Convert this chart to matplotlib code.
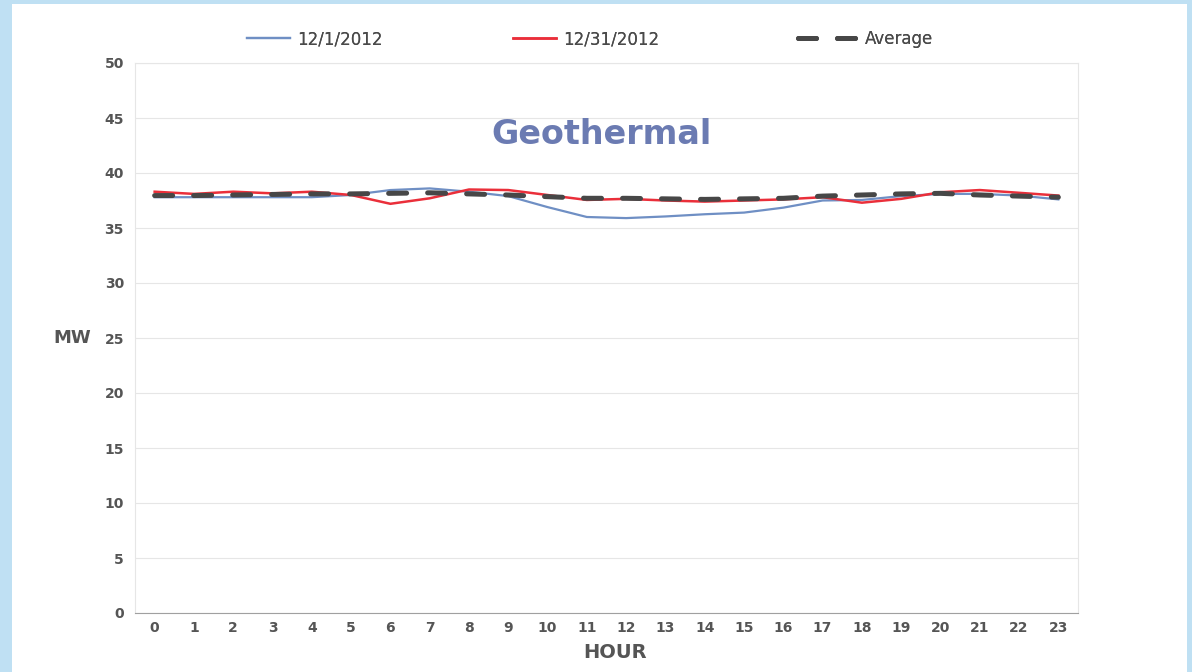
import matplotlib.pyplot as plt
from matplotlib.patches import Rectangle

hours = list(range(24))
dec_01 = [37.8, 37.8, 37.8, 37.8, 37.8, 38.0, 38.45, 38.6, 38.3, 37.9, 36.9, 36.0,
          35.9, 36.05, 36.25, 36.4, 36.85, 37.5, 37.55, 37.9, 38.1, 38.1, 37.95, 37.6]
dec_31 = [38.3, 38.1, 38.3, 38.15, 38.3, 38.0, 37.2, 37.7, 38.5, 38.45, 38.0, 37.55,
          37.65, 37.5, 37.4, 37.5, 37.6, 37.8, 37.3, 37.65, 38.25, 38.45, 38.2, 37.95]
average = [37.95, 37.95, 38.0, 38.05, 38.1, 38.1, 38.15, 38.2, 38.1, 38.0, 37.85, 37.7,
           37.7, 37.65, 37.6, 37.65, 37.7, 37.9, 38.0, 38.1, 38.15, 38.0, 37.9, 37.8]

y_ticks = list(range(0, 51, 5))

fig = plt.figure(figsize=(11.92, 6.72), dpi=100)
fig.patch.set_facecolor("#bfe0f3")
fig.patches.append(Rectangle((12 / 1192, 0), 1175 / 1192, 1 - 4 / 672,
                             transform=fig.transFigure, facecolor="white",
                             edgecolor="none", zorder=-10))

ax = fig.add_axes([135 / 1192, 1 - 613 / 672, (1078 - 135) / 1192, 550 / 672])
ax.set_facecolor("white")

l1, = ax.plot(hours, dec_01, color="#6f8fc4", lw=1.6, label="12/1/2012", zorder=3)
l2, = ax.plot(hours, dec_31, color="#ea2f3a", lw=1.8, label="12/31/2012", zorder=4)
l3, = ax.plot(hours, average, color="#474747", lw=3.6, dashes=(3.6, 4.2),
              dash_capstyle="round", label="Average", zorder=5)

ax.set_xlim(-0.5, 23.5)
ax.set_ylim(0, 50)
ax.set_xticks(hours)
ax.set_yticks(y_ticks)
ax.grid(axis="y", color="#e6e6e6", lw=0.8)
ax.tick_params(length=0, labelsize=10, colors="#555555")
ax.tick_params(axis="x", pad=6)
ax.tick_params(axis="y", pad=8)
for lbl in ax.get_xticklabels() + ax.get_yticklabels():
    lbl.set_fontweight("bold")
for side in ["left", "right", "top"]:
    ax.spines[side].set_color("#e6e6e6")
ax.spines["bottom"].set_color("#a0a0a0")

ax.text(0.495, 0.87, "Geothermal", transform=ax.transAxes, ha="center", va="center",
        fontsize=24, fontweight="bold", color="#6b7bb2")
fig.text(72 / 1192, 1 - 338 / 672, "MW", ha="center", va="center",
         fontsize=13, fontweight="bold", color="#555555")
fig.text(615 / 1192, 1 - 652 / 672, "HOUR", ha="center", va="center",
         fontsize=14, fontweight="bold", color="#555555")

# three separate legend entries placed along the top
legend_spots = [(l1, 232, 2.6), (l2, 498, 2.6), (l3, 783, 3.6)]
for line, x_px, hl in legend_spots:
    leg = fig.legend(handles=[line], loc="center left",
                     bbox_to_anchor=(x_px / 1192, 1 - 39 / 672), frameon=False,
                     fontsize=12, handlelength=hl, handletextpad=0.4,
                     labelcolor="#4a4a4a")
    fig.add_artist(leg)

fig.savefig("out.png", dpi=100)
